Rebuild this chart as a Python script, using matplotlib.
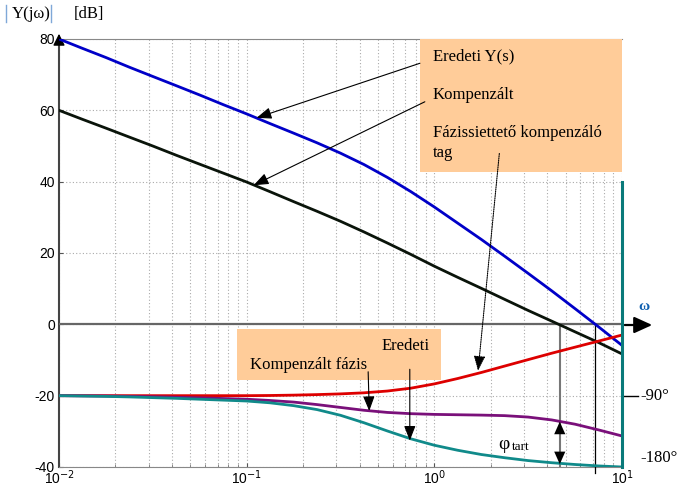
import matplotlib
matplotlib.use("Agg")
import matplotlib.pyplot as plt
from matplotlib.patches import Rectangle
from matplotlib.lines import Line2D

# frequencies (rad/s), an eighth of a decade apart
w = [0.01, 0.0133, 0.0178, 0.0237, 0.0316, 0.0422, 0.0562, 0.075,
     0.1, 0.133, 0.178, 0.237, 0.316, 0.422, 0.562, 0.75,
     1.0, 1.33, 1.78, 2.37, 3.16, 4.22, 5.62, 7.5, 10]

# amplitude curves (dB)
eredeti_db = [80, 77.4, 74.8, 72.1, 69.5, 66.9, 64.3, 61.6,
              59.0, 56.3, 53.6, 50.9, 48.0, 44.8, 41.2, 37.2,
              32.9, 28.4, 23.8, 19.1, 14.3, 9.4, 4.4, -0.7, -5.9]
kompenzalt_db = [60, 57.5, 55.0, 52.5, 50.0, 47.4, 44.9, 42.4,
                 39.9, 37.2, 34.4, 31.7, 28.9, 25.9, 22.8, 19.6,
                 16.3, 13.2, 10.1, 7.0, 3.9, 0.9, -2.1, -5.1, -8.3]

# phase curves, drawn in the dB frame (-90 deg at -20 dB, -180 deg at -40 dB)
siet_ph = [-20, -20, -20, -20, -20, -20, -20, -20,
           -20, -19.95, -19.85, -19.7, -19.5, -19.2, -18.7, -17.9,
           -16.7, -15.2, -13.5, -11.7, -9.9, -8.1, -6.4, -4.7, -3.0]
komp_ph = [-20, -20.05, -20.1, -20.2, -20.3, -20.45, -20.6, -20.8,
           -21.0, -21.35, -21.8, -22.5, -23.3, -24.1, -24.7, -25.05,
           -25.25, -25.35, -25.45, -25.6, -26.0, -26.8, -28.0, -29.6, -31.3]
ered_ph = [-20, -20.1, -20.2, -20.35, -20.55, -20.75, -21.0, -21.25,
           -21.5, -22.0, -22.8, -23.9, -25.5, -27.6, -29.9, -32.1,
           -33.9, -35.3, -36.5, -37.4, -38.2, -38.8, -39.3, -39.7, -40.0]

x_ticks = [0.01, 0.1, 1, 10]
x_labels = ["10$^{-2}$", "10$^{-1}$", "10$^{0}$", "10$^{1}$"]
y_ticks = [-40, -20, 0, 20, 40, 60, 80]

w_cross_komp = 4.66
w_cross_ered = 7.2

serif = "Liberation Serif"
sans = "Liberation Sans"
box_col = "#FFCC99"

fig = plt.figure(figsize=(6.82, 4.88), dpi=100)
ax = fig.add_axes([59/682, 21/488, 563/682, 428/488])
ax.set_xscale("log")
ax.set_xlim(0.01, 10)
ax.set_ylim(-40, 80)

# grid
ax.grid(True, which="both", axis="x", color="#aaaaaa", ls=(0, (1, 2)), lw=0.8)
ax.grid(True, which="major", axis="y", color="#aaaaaa", ls=(0, (1, 2)), lw=0.8)

ax.set_xticks(x_ticks)
ax.set_xticklabels(x_labels, fontfamily=sans, fontsize=10)
ax.set_yticks(y_ticks)
ax.set_yticklabels([str(v) for v in y_ticks], fontfamily=sans, fontsize=10)
ax.tick_params(direction="in", length=3, color="#555555")
ax.tick_params(axis="x", pad=1)
ax.tick_params(axis="y", pad=3)
ax.tick_params(which="minor", direction="in", length=2, color="#777777")

for s in ["top", "bottom"]:
    ax.spines[s].set_color("#888888")
ax.spines["left"].set_color("#444444")
ax.spines["left"].set_linewidth(1.5)
ax.spines["right"].set_visible(False)
# teal right border, from 40 dB down
ax.plot([10, 10], [40, -40], color="#0a7a7a", lw=2.2, zorder=6, clip_on=False)

# orange boxes
ax.add_patch(Rectangle((0.838, 42.7), 10 - 0.838, 80 - 42.7, facecolor=box_col,
                       edgecolor="none", zorder=3))
ax.add_patch(Rectangle((0.0886, -15.6), 1.08 - 0.0886, 14.3, facecolor=box_col,
                       edgecolor="none", zorder=3))

# zero axis with arrow
ax.axhline(0, color="#666666", lw=1.6, zorder=4)
ax.annotate("", xy=(655/682, 1 - 325/488), xycoords="figure fraction",
            xytext=(622/682, 1 - 325/488), textcoords="figure fraction",
            arrowprops=dict(arrowstyle="-|>,head_length=1.1,head_width=0.5",
                            color="#666666", lw=1.6, fc="black", ec="black"))
# y axis arrow
ax.annotate("", xy=(59/682, 1 - 31/488), xycoords="figure fraction",
            xytext=(59/682, 1 - 40/488), textcoords="figure fraction",
            arrowprops=dict(arrowstyle="-|>,head_length=0.7,head_width=0.35",
                            color="black", lw=1))

# curves
ax.plot(w, eredeti_db, color="#0000c8", lw=2, zorder=5)
ax.plot(w, kompenzalt_db, color="#0a140a", lw=2, zorder=5)
ax.plot(w, siet_ph, color="#dd0000", lw=2, zorder=5)
ax.plot(w, komp_ph, color="#7a107a", lw=2, zorder=5)
ax.plot(w, ered_ph, color="#108a8a", lw=2, zorder=5)

# crossover verticals
ax.plot([w_cross_komp, w_cross_komp], [0, -40], color="#777777", lw=1.5, zorder=4)
ax.plot([w_cross_ered, w_cross_ered], [0, -41.8], color="black", lw=0.9, zorder=4,
        clip_on=False)
ax.annotate("", xy=(w_cross_komp, -27.3), xytext=(w_cross_komp, -39.2),
            arrowprops=dict(arrowstyle="<|-|>,head_length=0.9,head_width=0.4",
                            color="black", lw=0.01, shrinkA=0, shrinkB=0), zorder=6)

# annotation arrows
arr = dict(arrowstyle="-|>,head_length=0.9,head_width=0.35", color="black", lw=0.8,
           shrinkA=0, shrinkB=0)
ax.annotate("", xy=(0.113, 57.9), xytext=(0.838, 73.2), arrowprops=arr, zorder=6)
ax.annotate("", xy=(0.109, 39.0), xytext=(0.89, 62.4), arrowprops=arr, zorder=6)
ax.annotate("", xy=(1.71, -13.0), xytext=(2.22, 47.9),
            arrowprops=dict(arr, ls=(0, (1, 1))), zorder=6)
ax.annotate("", xy=(0.45, -24.3), xytext=(0.444, -13.3), arrowprops=arr, zorder=6)
ax.annotate("", xy=(0.74, -32.6), xytext=(0.74, -12.6), arrowprops=arr, zorder=6)

# box texts
tk = dict(fontfamily=serif, fontsize=12, va="center", ha="left", zorder=7)
ax.text(0.98, 75, "Eredeti Y(s)", **tk)
ax.text(0.98, 64.3, "Kompenzált", **tk)
ax.text(0.98, 53.6, "Fázissiettető kompenzáló", **tk)
ax.text(0.98, 47.9, "tag", **tk)
ax.text(0.104, -11.4, "Kompenzált fázis", **tk)
ax.text(0.52, -6.1, "Eredeti", **tk)
ax.text(2.2, -33.6, "φ", fontfamily=serif, fontsize=14, va="center", ha="left", zorder=7)
ax.text(2.6, -34.4, "tart", fontfamily=serif, fontsize=9.5, va="center", ha="left", zorder=7)

# right phase scale
ax.plot([10, 10 * 10**(16/187.7)], [-20, -20], color="black", lw=1, clip_on=False)
fig.text(640/682, 1 - 396/488, "-90°", fontfamily=serif, fontsize=12, va="center")
fig.text(640/682, 1 - 458/488, "-180°", fontfamily=serif, fontsize=12, va="center")
fig.text(644/682, 1 - 306/488, "ω", fontfamily=serif, fontsize=11, color="#1060b0",
         va="center", ha="center", fontweight="bold")

# |Y(jw)| [dB] label
fig.text(12/682, 1 - 14/488, "Y(jω)", fontfamily=serif, fontsize=12, va="center")
fig.text(74/682, 1 - 14/488, "[dB]", fontfamily=serif, fontsize=12, va="center")
for xp in (6, 51):
    fig.add_artist(Line2D([xp/682, xp/682], [1 - 5/488, 1 - 22/488],
                          color="#7fa8d8", lw=1))

fig.savefig("out.png", dpi=100)
